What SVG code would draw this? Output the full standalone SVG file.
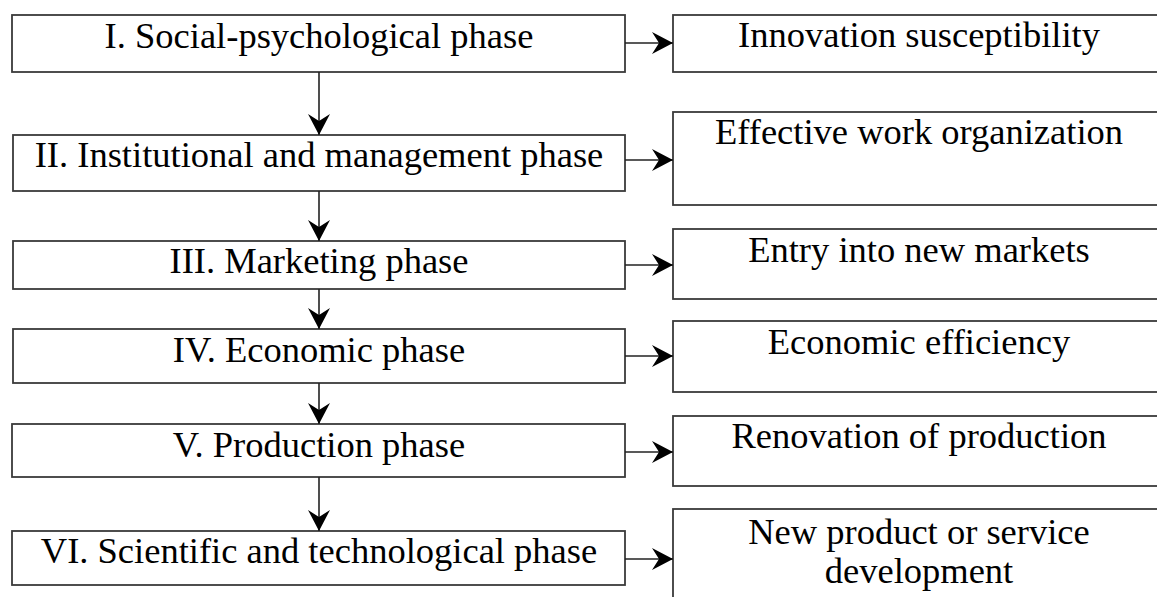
<svg xmlns="http://www.w3.org/2000/svg" width="1157" height="597" viewBox="0 0 1157 597">
<style>
.box{fill:#fff;stroke:#3a3a3a;stroke-width:1.8}
.t{font-family:"Liberation Serif","Times New Roman",serif;font-size:36.5px;fill:#000;text-anchor:middle}
.c{stroke:#222;stroke-width:1.6;fill:none}
</style>
<defs>
<marker id="ah" viewBox="0 0 22 22" refX="21" refY="11" markerWidth="22" markerHeight="22" markerUnits="userSpaceOnUse" orient="auto">
<path d="M0,0 L21,11 L0,22 L7,11 Z" fill="#000"/>
</marker>
</defs>
<rect width="1157" height="597" fill="#fff"/>
<g id="p1"><rect class="box" x="12" y="15" width="613" height="57"/><text class="t" x="319" y="48">I. Social-psychological phase</text></g>
<g id="p2"><rect class="box" x="13" y="135" width="612" height="56"/><text class="t" x="319" y="167">II. Institutional and management phase</text></g>
<g id="p3"><rect class="box" x="13" y="241" width="612" height="48"/><text class="t" x="319" y="273">III. Marketing phase</text></g>
<g id="p4"><rect class="box" x="13" y="329" width="612" height="54"/><text class="t" x="319" y="362">IV. Economic phase</text></g>
<g id="p5"><rect class="box" x="12" y="424" width="613" height="53"/><text class="t" x="319" y="457">V. Production phase</text></g>
<g id="p6"><rect class="box" x="12" y="531" width="613" height="54"/><text class="t" x="319" y="563">VI. Scientific and technological phase</text></g>
<g id="r1"><rect class="box" x="673" y="15" width="500" height="57"/><text class="t" x="919" y="47">Innovation susceptibility</text></g>
<g id="r2"><rect class="box" x="673" y="112" width="500" height="93"/><text class="t" x="919" y="144">Effective work organization</text></g>
<g id="r3"><rect class="box" x="673" y="229" width="500" height="70"/><text class="t" x="919" y="262">Entry into new markets</text></g>
<g id="r4"><rect class="box" x="673" y="321" width="500" height="71"/><text class="t" x="919" y="354">Economic efficiency</text></g>
<g id="r5"><rect class="box" x="673" y="416" width="500" height="70"/><text class="t" x="919" y="448">Renovation of production</text></g>
<g id="r6"><rect class="box" x="673" y="509" width="500" height="110"/><text class="t" x="919" y="544">New product or service</text><text class="t" x="919" y="583">development</text></g>
<g id="connectors">
<line class="c" x1="319" y1="72" x2="319" y2="135" marker-end="url(#ah)"/>
<line class="c" x1="319" y1="191" x2="319" y2="241" marker-end="url(#ah)"/>
<line class="c" x1="319" y1="289" x2="319" y2="329" marker-end="url(#ah)"/>
<line class="c" x1="319" y1="383" x2="319" y2="424" marker-end="url(#ah)"/>
<line class="c" x1="319" y1="477" x2="319" y2="531" marker-end="url(#ah)"/>
<line class="c" x1="625" y1="43" x2="673" y2="43" marker-end="url(#ah)"/>
<line class="c" x1="625" y1="160" x2="673" y2="160" marker-end="url(#ah)"/>
<line class="c" x1="625" y1="265" x2="673" y2="265" marker-end="url(#ah)"/>
<line class="c" x1="625" y1="356" x2="673" y2="356" marker-end="url(#ah)"/>
<line class="c" x1="625" y1="452" x2="673" y2="452" marker-end="url(#ah)"/>
<line class="c" x1="625" y1="559" x2="673" y2="559" marker-end="url(#ah)"/>
</g>
</svg>
